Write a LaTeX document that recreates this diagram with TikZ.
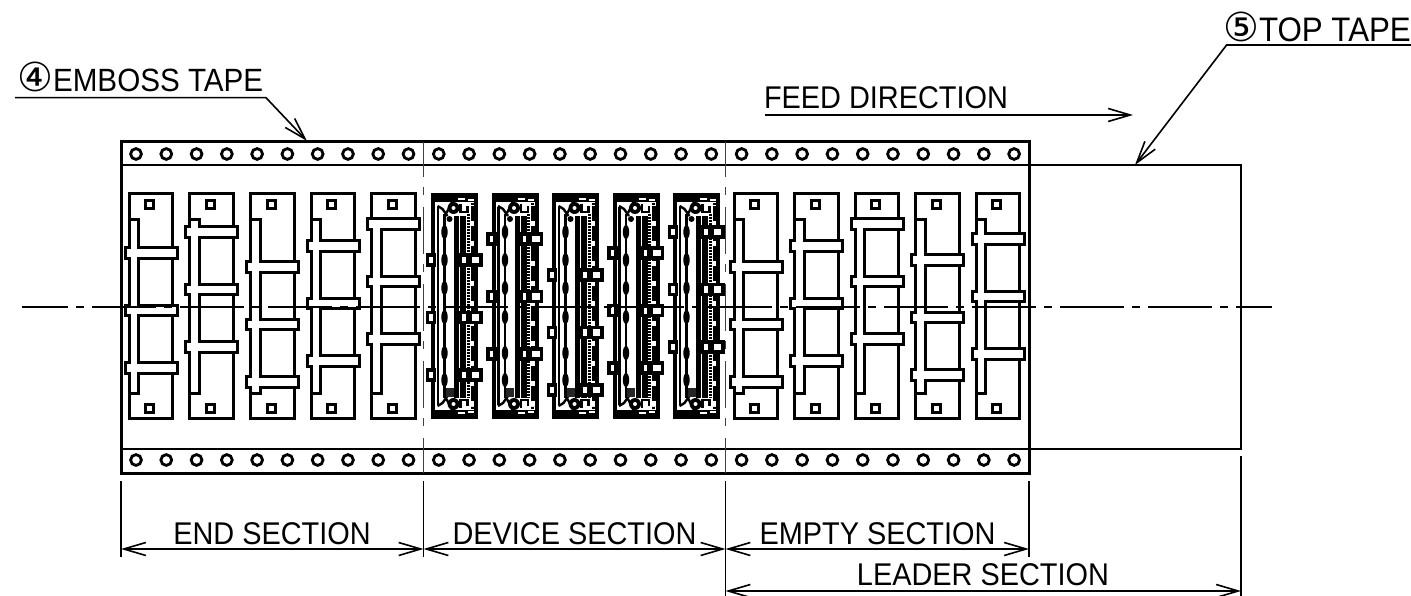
\documentclass[tikz,border=0pt]{standalone}
\usepackage{fontspec}
\setmainfont[FakeStretch=0.92]{Liberation Sans}
\newfontfamily\circfont{DejaVu Sans}
\usetikzlibrary{arrows.meta}
\usetikzlibrary{calc}

\newcommand{\carrierpart}[2]{%
  \draw[partline] (#1,194) rectangle ++(43.5,224);
  \draw[partline] (#1+16.7,201) rectangle ++(8,8);
  \draw[partline] (#1+16.7,404) rectangle ++(8,8);
  \foreach \rr in {0,57.5,115} {
    \draw[partline, line width=6pt] (#1-2.3,#2+\rr-3.7) rectangle (#1+46.6,#2+\rr+3.7);
  }
  \draw[partline, line width=6pt] (#1+1.5,221) rectangle (#1+8.4,392);
  \foreach \rr in {0,57.5,115} {
    \fill[white] (#1-2.3,#2+\rr-3.7) rectangle (#1+46.6,#2+\rr+3.7);
  }
  \fill[white] (#1+1.5,221) rectangle (#1+8.4,392);
}

\newcommand{\devicecap}{%
  \fill (0,194) rectangle (45,202);
  \fill[white] (26,198.5) rectangle (33,200.5);
  \fill[white] (36,199) rectangle (42,201);
  \draw[devthin] (6,206) -- (11,209) -- (16,216);
  \draw[devthin] (21,201) -- (19,205) -- (15,213);
  \fill (22,208) circle (6);
  \fill[white] (22,208) circle (2);
  \draw[devthin] (29,204) -- (29,212) -- (36,212) -- (36,206);
  \draw[devthin] (39,204) -- (42,204);
  \fill (18,219) circle (3);
}

\newcommand{\devicepart}[2]{%
  \begin{scope}[shift={(#1,0)}]
    \devicecap
    \begin{scope}[shift={(0,612)},yscale=-1]
      \devicecap
    \end{scope}
    \draw[partline, line width=4pt] (1.5,195) rectangle (44.5,417);
    \draw[devthin] (6.5,207) -- (6.5,405);
    \draw[devthin] (13,214) -- (13,398);
    \foreach \yy in {232,260,288,317,353,380} {
      \fill (13,\yy) ellipse (3.2 and 7);
    }
    \fill (22.5,216) rectangle (34.5,398);
    \fill[white] (27.5,216) rectangle (28.7,398);
    \draw[devthin, line width=3pt, dash pattern=on 2pt off 1pt] (36.5,214) -- (36.5,398);
    \draw[devthin, line width=3.4pt, dash pattern=on 15pt off 5pt] (41,206) -- (41,406);
    \fill[black!85] (14,388) rectangle (22,397);
    \foreach \rr in {0,57.5,115} {
      \draw[partline, line width=3.6pt, fill=white] (-4,#2+\rr-5) rectangle (3,#2+\rr+5);
      \draw[partline, line width=3.6pt, fill=white] (29,#2+\rr-5) rectangle (49.5,#2+\rr+5);
      \fill (34,#2+\rr-6) rectangle (40,#2+\rr+6);
    }
  \end{scope}
}

\begin{document}
\begin{tikzpicture}[x=1pt,y=-1pt,>={Straight Barb[length=22pt,width=13pt]},
        partline/.style={line width=3pt, miter limit=4},
        devthin/.style={line width=2.4pt},
        tapeline/.style={line width=3pt},
        thinline/.style={line width=1.6pt},
        secline/.style={line width=1.8pt, black!75, dash pattern=on 47pt off 10pt on 8pt off 12pt, dash phase=12pt},
        centerline/.style={line width=1.4pt, dash pattern=on 64pt off 8pt on 8pt off 8pt, dash phase=18pt},
        lab/.style={font=\fontsize{31.4}{31.4}\selectfont, inner sep=0pt, anchor=base}]

        \useasboundingbox (0,0) rectangle (1411,596);

        \draw[thinline] (1029,165) -- (1241,165) -- (1241,449) -- (1029,449);
        \draw[thinline] (121,165) -- (1029,165);
        \draw[thinline] (121,449) -- (1029,449);
        \draw[tapeline] (121,142) rectangle (1029,473);

        \foreach \i in {0,...,29} {
          \draw[line width=2.8pt] ({136+30.28*\i},154) circle (5.4);
          \draw[line width=2.8pt] ({136+30.28*\i},460) circle (5.4);
        }

        \foreach \x in {423.5,725.5} {
          \draw[secline] (\x,142) -- (\x,473);
        }

        \carrierpart{129}{253}
        \carrierpart{189.5}{232}
        \carrierpart{250.5}{267}
        \carrierpart{311}{246}
        \carrierpart{371.5}{224}

        \devicepart{431.5}{260}
        \devicepart{492}{239}
        \devicepart{552.5}{275}
        \devicepart{613}{253}
        \devicepart{673.5}{232}

        \carrierpart{734}{267}
        \carrierpart{794.5}{246}
        \carrierpart{855}{224}
        \carrierpart{915.5}{260}
        \carrierpart{976}{239}

        \draw[centerline] (22,307) -- (1272,307);

        \foreach \n/\x in {A/121,B/423.5,C/725.5,D/1029} {
          \coordinate (ext\n) at (\x,481);
          \coordinate (dim\n) at (\x,549);
        }
        \coordinate (extE) at (1241,456);
        \coordinate (leadA) at (725.5,591);
        \coordinate (leadB) at (1241,591);

        \draw[thinline] (extA) -- ++(0,76);
        \draw[thinline] (extB) -- ++(0,76);
        \draw[thinline] (extC) -- ++(0,115);
        \draw[thinline] (extD) -- ++(0,76);
        \draw[thinline] (extE) -- ++(0,140);

        \draw[thinline,<->] (dimA) -- (dimB);
        \draw[thinline,<->] (dimB) -- (dimC);
        \draw[thinline,<->] (dimC) -- (dimD);
        \draw[thinline,<->] (leadA) -- (leadB);

        \node[lab] (endsec) at (272,544) {END SECTION};
        \node[lab] (devsec) at (574.5,544) {DEVICE SECTION};
        \node[lab] (empsec) at (877.5,544) {EMPTY SECTION};
        \node[lab] (leadsec) at (983,585) {LEADER SECTION};
        \node[lab] (feed) at (886,109) {FEED DIRECTION};
        \node[lab, font=\fontsize{32.2}{32.2}\selectfont, anchor=base west] (emboss) at (17,92) {{\circfont\fontsize{40}{40}\selectfont ④}EMBOSS TAPE};
        \node[lab, font=\fontsize{34}{34}\selectfont, anchor=base east] (toptape) at (1411,41.5) {{\circfont\fontsize{40}{40}\selectfont ⑤}TOP TAPE};

        \coordinate (feedA) at (765,115);
        \coordinate (feedB) at (1133,115);
        \coordinate (embA) at (15,97.7);
        \coordinate (embB) at (266,97.7);
        \coordinate (embC) at (307,141);
        \coordinate (topA) at (1411,45);
        \coordinate (topB) at (1226.6,45);
        \coordinate (topC) at (1135,165);

        \draw[thinline,->] (feedA) -- (feedB);
        \draw[thinline,->] (embA) -- (embB) -- (embC);
        \draw[thinline,->] (topA) -- (topB) -- (topC);

      \end{tikzpicture}
\end{document}
